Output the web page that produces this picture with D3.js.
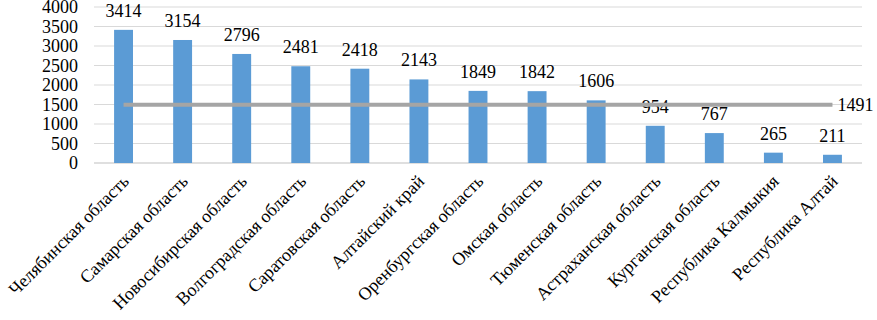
<!DOCTYPE html>
<html>
<head>
<meta charset="utf-8">
<script src="https://cdn.jsdelivr.net/npm/d3@7"></script>
<style>
  body { margin: 0; background: #fff; }
</style>
</head>
<body>
<svg id="chart"></svg>
<script>
// regions and values
const regions = [
    "Челябинская область", "Самарская область", "Новосибирская область",
    "Волгоградская область", "Саратовская область", "Алтайский край",
    "Оренбургская область", "Омская область", "Тюменская область",
    "Астраханская область", "Курганская область", "Республика Калмыкия",
    "Республика Алтай"
];
const values = [3414, 3154, 2796, 2481, 2418, 2143, 1849, 1842, 1606, 954, 767, 265, 211];
const average = 1491;
const yTicks = [0, 500, 1000, 1500, 2000, 2500, 3000, 3500, 4000];

const width = 877, height = 320;
const margin = {top: 7, right: 15, bottom: 157, left: 94};
const serif = "Liberation Serif";

const svg = d3.select("#chart")
    .attr("width", width)
    .attr("height", height);

const x = d3.scaleBand()
    .domain(regions)
    .range([margin.left, width - margin.right])
    .paddingInner(0.68)
    .paddingOuter(0.34);

const y = d3.scaleLinear()
    .domain([0, 4000])
    .range([height - margin.bottom, margin.top]);

// gridlines
svg.append("g")
    .selectAll("line")
    .data(yTicks)
    .enter()
    .append("line")
    .attr("x1", margin.left)
    .attr("x2", width - margin.right)
    .attr("y1", d => y(d))
    .attr("y2", d => y(d))
    .attr("stroke", d => d === 0 ? "#bfbfbf" : "#d9d9d9")
    .attr("stroke-width", 1);

// y tick labels
svg.append("g")
    .selectAll("text")
    .data(yTicks)
    .enter()
    .append("text")
    .attr("x", 78)
    .attr("y", d => y(d))
    .attr("dy", "0.35em")
    .attr("text-anchor", "end")
    .attr("font-family", serif)
    .attr("font-size", 18)
    .text(d => d);

// bars
svg.append("g")
    .selectAll("rect")
    .data(values)
    .enter()
    .append("rect")
    .attr("x", (d, i) => x(regions[i]))
    .attr("y", d => y(d))
    .attr("width", x.bandwidth())
    .attr("height", d => y(0) - y(d))
    .attr("fill", "#5b9bd5");

// value labels
svg.append("g")
    .selectAll("text")
    .data(values)
    .enter()
    .append("text")
    .attr("x", (d, i) => x(regions[i]) + x.bandwidth() / 2)
    .attr("y", d => y(d) - 13)
    .attr("text-anchor", "middle")
    .attr("font-family", serif)
    .attr("font-size", 18)
    .text(d => d);

// average line
const first = x(regions[0]) + x.bandwidth() / 2;
const last = x(regions[regions.length - 1]) + x.bandwidth() / 2;
svg.append("line")
    .attr("x1", first)
    .attr("x2", last)
    .attr("y1", y(average))
    .attr("y2", y(average))
    .attr("stroke", "#a5a5a5")
    .attr("stroke-width", 4);

svg.append("text")
    .attr("x", last + 5)
    .attr("y", y(average))
    .attr("dy", "0.35em")
    .attr("font-family", serif)
    .attr("font-size", 18)
    .text(average);

// x labels, rotated
svg.append("g")
    .selectAll("text")
    .data(regions)
    .enter()
    .append("text")
    .attr("transform", d => `translate(${x(d) + x.bandwidth() / 2 + 2},${y(0) + 15}) rotate(-45)`)
    .attr("text-anchor", "end")
    .attr("dy", "0.35em")
    .attr("font-family", serif)
    .attr("font-size", 18)
    .text(d => d);
</script>
</body>
</html>
